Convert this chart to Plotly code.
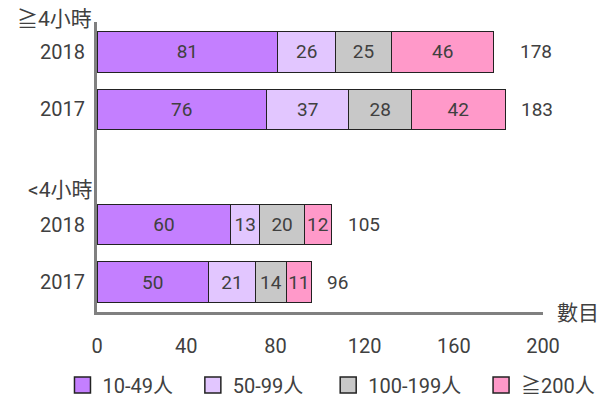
import plotly.graph_objects as go

series_names = ["10-49人", "50-99人", "100-199人", "≧200人"]
colors = ["#c47fff", "#e2c6ff", "#c8c8c8", "#ff99c9"]
row_labels = ["2018", "2017", "2018", "2017"]
row_pos = [0, 1, 3, 4]
group_labels = ["≧4小時", "<4小時"]
group_pos = [1.012, 0.42]
values = [
    [81, 76, 60, 50],
    [26, 37, 13, 21],
    [25, 28, 20, 14],
    [46, 42, 12, 11],
]
totals = [178, 183, 105, 96]
total_shift = [24, 14, 15, 14]
x_ticks = [0, 40, 80, 120, 160, 200]
legend_pad = [3, 4, 3, 0]

FONT = "Roboto, Noto Sans CJK TC, sans-serif"
TXT = "#404040"
FS = 19

fig = go.Figure()
for name, col, vals, pad in zip(series_names, colors, values, legend_pad):
    fig.add_trace(go.Bar(
        y=row_pos, x=vals, orientation="h", name=name,
        marker=dict(color=col, line=dict(color="#222222", width=1)),
        width=0.7, text=vals, textposition="inside", insidetextanchor="middle",
        textfont=dict(size=FS, color=TXT, family=FONT), showlegend=False,
        constraintext="none",
    ))
    fig.add_trace(go.Scatter(
        x=[None], y=[None], mode="markers", name=name + "\u00a0" * pad,
        marker=dict(symbol="square", size=17, color=col, line=dict(color="#222222", width=1.5)),
    ))

for yp, t, s in zip(row_pos, totals, total_shift):
    fig.add_annotation(x=t, y=yp, text=str(t), showarrow=False, xanchor="left",
                       xshift=s, font=dict(size=FS, color=TXT, family=FONT))
for yp, g in zip(group_pos, group_labels):
    fig.add_annotation(x=0, xref="paper", y=yp, yref="paper", text=g, showarrow=False,
                       xanchor="right", yanchor="middle", xshift=-3,
                       font=dict(size=21, color=TXT, family=FONT))
fig.add_annotation(x=1.027, xref="paper", y=-0.005, yref="paper", text="數目", showarrow=False,
                   xanchor="left", yanchor="middle", font=dict(size=21, color=TXT, family=FONT))

fig.update_layout(
    width=606, height=389, barmode="stack", bargap=0.3,
    margin=dict(l=89, r=71, t=14, b=85, autoexpand=False),
    paper_bgcolor="white", plot_bgcolor="white",
    font=dict(family=FONT, color=TXT, size=FS),
    uniformtext=dict(minsize=FS, mode="show"),
    xaxis=dict(range=[0, 200], tickvals=x_ticks, showgrid=False, zeroline=False,
               showline=True, linecolor="#808080", linewidth=3, automargin=False,
               ticks="outside", ticklen=14, tickcolor="rgba(0,0,0,0)",
               tickfont=dict(size=20, color=TXT, family=FONT)),
    yaxis=dict(range=[4.52, -0.52], tickvals=row_pos, ticktext=row_labels, showgrid=False,
               zeroline=False, showline=True, linecolor="#808080", linewidth=3,
               automargin=False,
               ticks="outside", ticklen=5, tickcolor="rgba(0,0,0,0)",
               tickfont=dict(size=20, color=TXT, family=FONT)),
    legend=dict(orientation="h", xref="paper", yref="paper", x=-0.0774, xanchor="left",
                y=-0.252, yanchor="middle",
                font=dict(size=20, color=TXT, family=FONT), itemwidth=30,
                traceorder="normal"),
)

fig.write_html("out.html")
